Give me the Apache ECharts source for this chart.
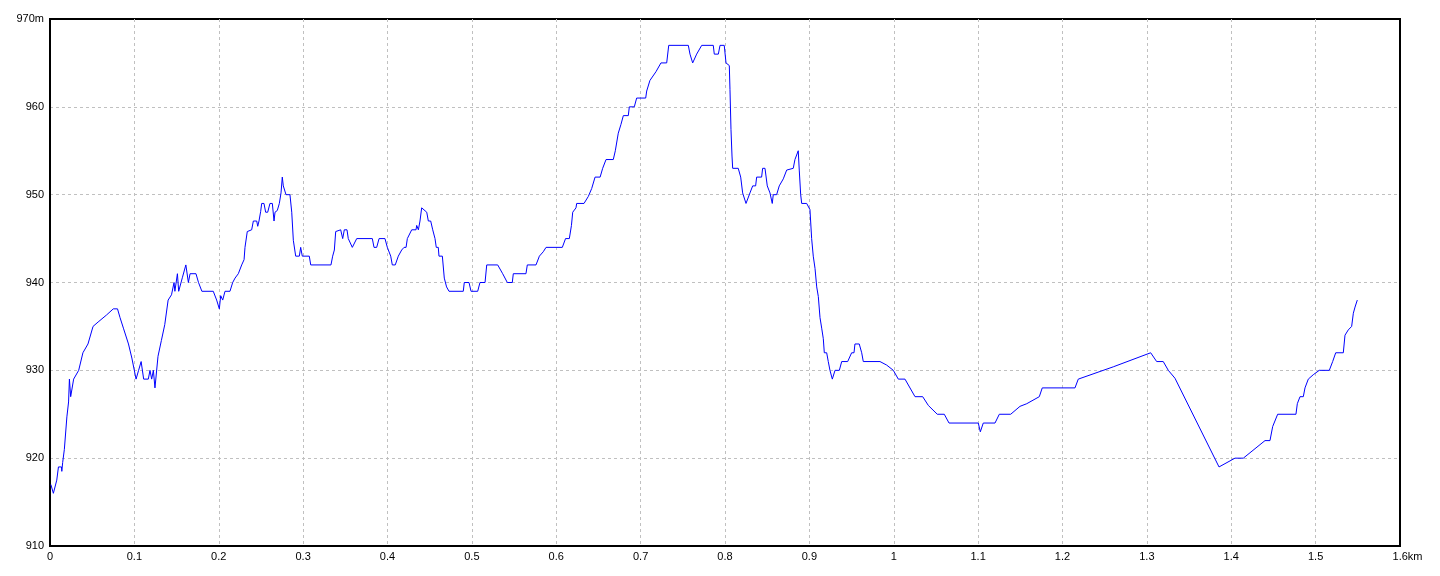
<!DOCTYPE html>
<html>
<head>
<meta charset="utf-8">
<script src="https://cdn.jsdelivr.net/npm/echarts@6/dist/echarts.min.js"></script>
<style>
html,body{margin:0;padding:0;background:#fff;}
#chart{width:1440px;height:576px;}
</style>
</head>
<body>
<div id="chart"></div>
<script>
// Distance along the route (km)
const distances = [
0.001,0.004,0.008,0.010,0.0136,0.014,0.015,0.017,0.020,0.022,0.023,0.0245,0.026,0.028,0.034,0.039,0.045,0.051,0.057,0.067,0.075,0.080,0.083,0.087,0.093,0.097,0.102,0.105,0.108,0.111,0.1165,0.1185,0.1205,0.1225,0.1244,0.1265,0.128,0.132,0.136,0.140,0.144,0.147,0.148,0.151,0.1525,0.1547,0.157,0.161,0.164,0.166,0.173,0.176,0.180,0.1935,0.1975,0.2007,0.2023,0.2047,0.2074,0.2133,0.2165,0.2193,0.2232,0.2272,0.230,0.2311,0.2338,0.239,0.241,0.245,0.2462,0.2477,0.2497,0.2509,0.2536,0.2556,0.258,0.2607,0.2635,0.2655,0.2667,0.2694,0.2718,0.2738,0.2753,0.2765,0.2797,0.2844,0.2865,0.2884,0.2912,0.2955,0.2971,0.299,0.3073,0.309,0.333,0.335,0.337,0.3386,0.340,0.3445,0.3469,0.3488,0.352,0.3535,0.3583,0.3635,0.382,0.384,0.3872,0.390,0.397,0.3998,0.402,0.4038,0.4057,0.4092,0.4128,0.4168,0.4196,0.422,0.4235,0.4287,0.4338,0.4346,0.4366,0.4385,0.4405,0.4417,0.4465,0.4484,0.4512,0.4536,0.4563,0.4578,0.4602,0.461,0.465,0.4673,0.470,0.4729,0.4898,0.491,0.4966,0.499,0.5069,0.5096,0.5156,0.5176,0.5306,0.5365,0.542,0.5479,0.5491,0.5641,0.5657,0.576,0.580,0.5846,0.5879,0.6072,0.611,0.6155,0.618,0.6195,0.6234,0.6242,0.6329,0.638,0.642,0.646,0.652,0.655,0.659,0.6676,0.670,0.6735,0.6767,0.6795,0.6854,0.6866,0.6925,0.6953,0.706,0.7072,0.711,0.7182,0.7241,0.7309,0.7333,0.7565,0.7585,0.7617,0.7664,0.7724,0.7861,0.7873,0.7921,0.7941,0.7991,0.8012,0.8051,0.8059,0.8071,0.8083,0.8091,0.8157,0.8186,0.8209,0.8249,0.8272,0.8296,0.8328,0.8363,0.8375,0.8434,0.8446,0.8474,0.8501,0.8533,0.856,0.8572,0.8612,0.8643,0.8691,0.8731,0.8809,0.8829,0.8849,0.8868,0.888,0.8897,0.8909,0.8968,0.9007,0.9027,0.9046,0.9067,0.9087,0.9106,0.9126,0.9146,0.9165,0.9177,0.9205,0.9224,0.9244,0.9272,0.9304,0.9355,0.9383,0.9454,0.9501,0.9529,0.954,0.9591,0.962,0.9639,0.9837,0.9916,0.9995,1.0054,1.0133,1.0252,1.0343,1.041,1.0516,1.0599,1.0655,1.1002,1.1026,1.1061,1.12,1.1251,1.1386,1.1496,1.1576,1.1725,1.176,1.2148,1.2187,1.2602,1.3045,1.3116,1.3194,1.3254,1.3333,1.3855,1.4044,1.4143,1.44,1.4459,1.4491,1.455,1.4767,1.4783,1.4815,1.4854,1.4874,1.4913,1.4972,1.5043,1.5162,1.5202,1.5238,1.5328,1.5348,1.5387,1.5427,1.5447,1.5467,1.5494
];
// Elevation (m)
const elevations = [
917,916,917.5,919,919,918.5,919.5,921,924.7,926.4,929,927,927,929,930,932,933,935,935.5,936.3,937,937,936,934.8,933,931.4,929,930,931,929,929,930,929,930,928,928,931.6,933.4,935.2,938,938.6,940,939,941,939,939,940.6,942,940,941,941,940,939,939,938,937,938.5,938,939,939,940,940.5,941,942,942.6,944,945.8,946,947,947,946.4,947,948.1,949,949,948,948,949,949,947,948,948.2,949,950.2,952,951,950,950,948,944.8,943,943,944,943,943,942,942,943,943.7,945.8,946,946,945,946,946,945,944,945,945,944,944,945,945,944,944,943,942,942,943,943.7,944,944,945,946,946,946.5,946,947,948.5,948.6,948,947,947,946,945,944,944,943,943,940.5,939.5,939,939,940,940,939,939,940,940,942,942,941,940,940,941,941,942,942,943,943.5,944,944,945,945,946.5,948,948.5,949,949,949.8,950.7,952,952,953,954,954,955,957,958,959,959,960,960,961,961,961.8,963,964,965,965,967,967,966,965,966,967,967,966,966,967,967,965,964.7,962,957.4,954.4,953,953,952,950.2,949,949,950.2,951,951,952,952,953,953,951,950.2,949,950,950,951,951.8,952.8,953,954,954,955,952.8,950,949,949,948.3,945,943,941.6,939.5,938.4,936,934.8,933.6,932,932,931,930,929,930,930,931,931,932,932,933,933,932,931,931,930.6,930,929,929,927,927,926,925,925,924,924,923,924,924,925,925,925.9,926.2,927,928,928,929,930.4,932,931,931,930,929.1,919,920,920,922,922,923.6,925,925,926.2,927,927,928,929,929.5,930,930,931,932,932,934,934.6,935,936.5,937.2,938
];
// Axis tick values
const xTicks = [0,0.1,0.2,0.3,0.4,0.5,0.6,0.7,0.8,0.9,1,1.1,1.2,1.3,1.4,1.5,1.6];
const yTicks = [910,920,930,940,950,960,970];

const points = distances.map((d, i) => [d, elevations[i]]);

const chart = echarts.init(document.getElementById('chart'), null, {renderer: 'canvas'});
const FONT = 'Liberation Sans, DejaVu Sans, sans-serif';
chart.setOption({
  animation: false,
  backgroundColor: '#ffffff',
  grid: {
    left: 50, right: 40, top: 19, bottom: 30,
    show: true, borderColor: '#000000', borderWidth: 2, backgroundColor: 'transparent'
  },
  xAxis: {
    type: 'value',
    min: xTicks[0], max: xTicks[xTicks.length - 1], interval: 0.1,
    axisLine: {show: true, onZero: false, lineStyle: {color: '#000000', width: 2}},
    axisTick: {show: false},
    splitLine: {show: true, showMinLine: false, showMaxLine: false, lineStyle: {color: '#c0c0c0', type: [3, 3], width: 1}},
    axisLabel: {
      color: '#000000', fontFamily: FONT, fontSize: 11, margin: 5,
      formatter: function (v) {
        const s = String(parseFloat(v.toFixed(1)));
        if (Math.abs(v - xTicks[xTicks.length - 1]) < 1e-9) return '{p|}' + s + 'km';
        return s;
      },
      rich: {p: {width: 15}}
    }
  },
  yAxis: {
    type: 'value',
    min: yTicks[0], max: yTicks[yTicks.length - 1], interval: 10,
    axisLine: {show: true, lineStyle: {color: '#000000', width: 2}},
    axisTick: {show: false},
    splitLine: {show: true, showMinLine: false, showMaxLine: false, lineStyle: {color: '#c0c0c0', type: [3, 3], width: 1}},
    axisLabel: {
      color: '#000000', fontFamily: FONT, fontSize: 11, margin: 6,
      formatter: function (v) {
        return v === yTicks[yTicks.length - 1] ? v + 'm' : String(v);
      }
    }
  },
  series: [{
    type: 'line',
    data: points,
    showSymbol: false,
    symbol: 'none',
    lineStyle: {color: '#0000ff', width: 1},
    z: 3
  }]
});
</script>
</body>
</html>
